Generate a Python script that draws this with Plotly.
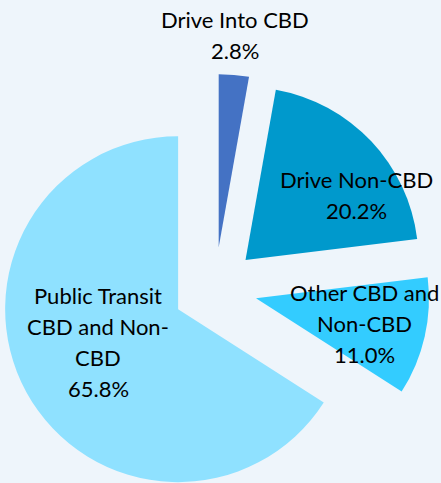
import plotly.graph_objects as go

# ---- data ----
categories = ["Drive Into CBD", "Drive Non-CBD", "Other CBD and Non-CBD",
              "Public Transit CBD and Non-CBD"]
shares = [2.8, 20.2, 11.0, 65.8]
label_lines = [["Drive Into CBD"], ["Drive Non-CBD"], ["Other CBD and", "Non-CBD"],
               ["Public Transit", "CBD and Non-", "CBD"]]
colors = ["#4472C4", "#0099CC", "#33CCFF", "#8FE1FF"]

# ---- layout constants ----
W, H = 441, 510
FS = 22
LINE = 31
FONT = "Lato"
# text block anchors: (center x px, first baseline y px)
label_pos = [(235, 27), (356, 187), (364, 300), (98, 303)]

fig = go.Figure(go.Pie(
    labels=categories, values=shares, sort=False, direction="clockwise",
    rotation=0, pull=[0.243] * len(shares),
    marker=dict(colors=colors, line=dict(width=0)),
    textinfo="none", hoverinfo="label+percent",
    domain=dict(x=[0, 430 / W], y=[1 - 504 / H, 1 - 74 / H]),
    showlegend=False,
))

annotations = []
for lines, share, (cx, by) in zip(label_lines, shares, label_pos):
    all_lines = lines + [f"{share:.1f}%"]
    for i, txt in enumerate(all_lines):
        y_px = by + i * LINE - 0.35 * FS
        annotations.append(dict(
            text=txt, x=cx / W, y=1 - y_px / H, xref="paper", yref="paper",
            xanchor="center", yanchor="middle", showarrow=False,
            font=dict(family=FONT, size=FS, color="#000000"),
        ))

fig.update_layout(
    width=W, height=H, margin=dict(l=0, r=0, t=0, b=0),
    paper_bgcolor="#EEF5FB", plot_bgcolor="#EEF5FB",
    annotations=annotations,
)

fig.write_html(
    "out.html",
    config={"displayModeBar": False},
    post_script="document.documentElement.style.overflow='hidden';"
                "document.body.style.overflow='hidden';document.body.style.margin='0';",
)
